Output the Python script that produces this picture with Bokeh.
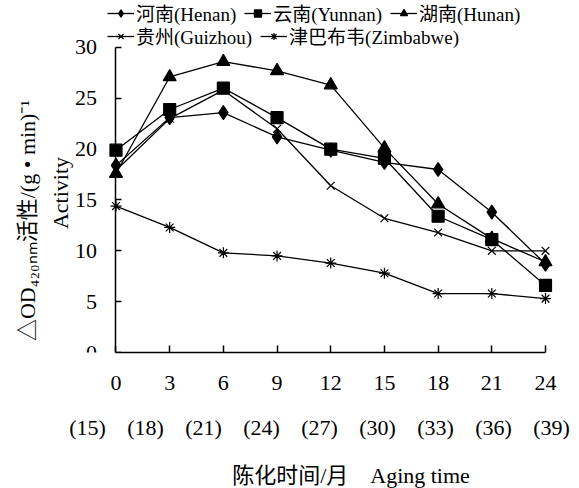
from bokeh.plotting import figure
from bokeh.models import Range1d, FixedTicker, Legend, LegendItem, LinearAxis
from bokeh.embed import file_html
from bokeh.resources import INLINE

# ---- data ----
months = [0, 3, 6, 9, 12, 15, 18, 21, 24]
storage_age = [15, 18, 21, 24, 27, 30, 33, 36, 39]
y_ticks = [0, 5, 10, 15, 20, 25, 30]

henan = [18.4, 23.1, 23.6, 21.2, 19.9, 18.7, 18.0, 13.8, 8.7]
yunnan = [19.9, 23.9, 26.0, 23.1, 20.0, 19.1, 13.4, 11.1, 6.6]
hunan = [17.6, 27.1, 28.6, 27.7, 26.3, 20.1, 14.6, 11.2, 8.9]
guizhou = [17.9, 23.0, 25.8, 22.0, 16.4, 13.2, 11.8, 10.0, 10.0]
zimbabwe = [14.4, 12.3, 9.8, 9.5, 8.8, 7.8, 5.8, 5.8, 5.3]

series_names = ["河南(Henan)", "云南(Yunnan)", "湖南(Hunan)", "贵州(Guizhou)", "津巴布韦(Zimbabwe)"]
series_values = [henan, yunnan, hunan, guizhou, zimbabwe]
markers = ["diamond", "square", "triangle", "x", "asterisk"]
marker_sizes = [14, 12, 13, 11, 11]

FONT = "Liberation Serif, Noto Sans CJK SC"

p = figure(frame_width=502, frame_height=352,
           x_range=Range1d(-2.43, 25.62), y_range=Range1d(0, 34.62),
           output_backend="svg", toolbar_location=None, title=None,
           y_axis_location=None,
           min_border_left=72, min_border_right=4,
           min_border_top=0, min_border_bottom=134)
p.extra_x_ranges = {"age": Range1d(14.224, 40.19)}
p.outline_line_color = None
p.xgrid.visible = False
p.ygrid.visible = False

items = []
for name, vals, mk, ms in zip(series_names, series_values, markers, marker_sizes):
    lr = p.line(months, vals, line_color="black", line_width=1.3)
    sr = p.scatter(months, vals, marker=mk, size=ms, fill_color="black",
                   line_color="black", line_width=1.2)
    items.append(LegendItem(label=name, renderers=[lr, sr]))

def make_legend(its, loc):
    return Legend(items=its, orientation="horizontal", location=loc,
                  border_line_color=None, background_fill_alpha=0,
                  padding=0, margin=0, spacing=8,
                  glyph_width=27, glyph_height=18, label_height=18,
                  label_standoff=2,
                  label_text_font=FONT, label_text_font_size="19px",
                  label_text_color="black")

p.add_layout(make_legend(items[:3], (35, 326)))
p.add_layout(make_legend(items[3:], (35, 303)))

# main x axis (months)
xa = p.xaxis[0]
xa.ticker = FixedTicker(ticks=months)
xa.bounds = (0, 24)
xa.major_tick_in = 7
xa.major_tick_out = 0
xa.minor_tick_line_color = None
xa.major_label_standoff = 23
xa.major_label_text_font = FONT
xa.major_label_text_font_size = "22px"
xa.major_label_text_color = "black"
xa.axis_line_width = 1.5
xa.major_tick_line_width = 1.5

# second row: storage age, plus the axis title
xb = LinearAxis(x_range_name="age", ticker=FixedTicker(ticks=storage_age))
xb.major_label_overrides = {a: f"({a})" for a in storage_age}
xb.axis_line_color = None
xb.major_tick_line_color = None
xb.minor_tick_line_color = None
xb.major_label_standoff = 16
xb.major_label_text_font = FONT
xb.major_label_text_font_size = "22px"
xb.major_label_text_color = "black"
xb.axis_label = "\u3000\u3000\u2002陈化时间/月\u2002\u2002Aging time"
xb.axis_label_text_font = FONT
xb.axis_label_text_font_size = "22px"
xb.axis_label_text_font_style = "normal"
xb.axis_label_text_color = "black"
xb.axis_label_standoff = 20
p.add_layout(xb, "below")

# y axis title (at the frame's left edge)
ylab = LinearAxis(ticker=FixedTicker(ticks=[]))
ylab.axis_line_color = None
ylab.major_tick_line_color = None
ylab.minor_tick_line_color = None
ylab.axis_label = "△OD₄₂₀ₙₘ活性/(g • min)⁻¹\u3000\u3000\u3000\u3000\nActivity\u3000\u2002"
ylab.axis_label_text_font = FONT
ylab.axis_label_text_font_size = "22px"
ylab.axis_label_text_font_style = "normal"
ylab.axis_label_text_color = "black"
ylab.axis_label_text_line_height = 1.3
ylab.axis_label_standoff = 0
p.add_layout(ylab, "left")

# y axis line, ticks and tick labels at x = 0
ya = LinearAxis(ticker=FixedTicker(ticks=y_ticks), fixed_location=0)
ya.bounds = (0, 30)
ya.major_tick_in = 6
ya.major_tick_out = 0
ya.minor_tick_line_color = None
ya.major_label_standoff = 19
ya.major_label_text_font = FONT
ya.major_label_text_font_size = "22px"
ya.major_label_text_color = "black"
ya.major_label_text_baseline = "alphabetic"
ya.axis_line_width = 1.5
ya.major_tick_line_width = 1.5
p.add_layout(ya, "left")

open("out.html", "w").write(file_html(p, INLINE))
